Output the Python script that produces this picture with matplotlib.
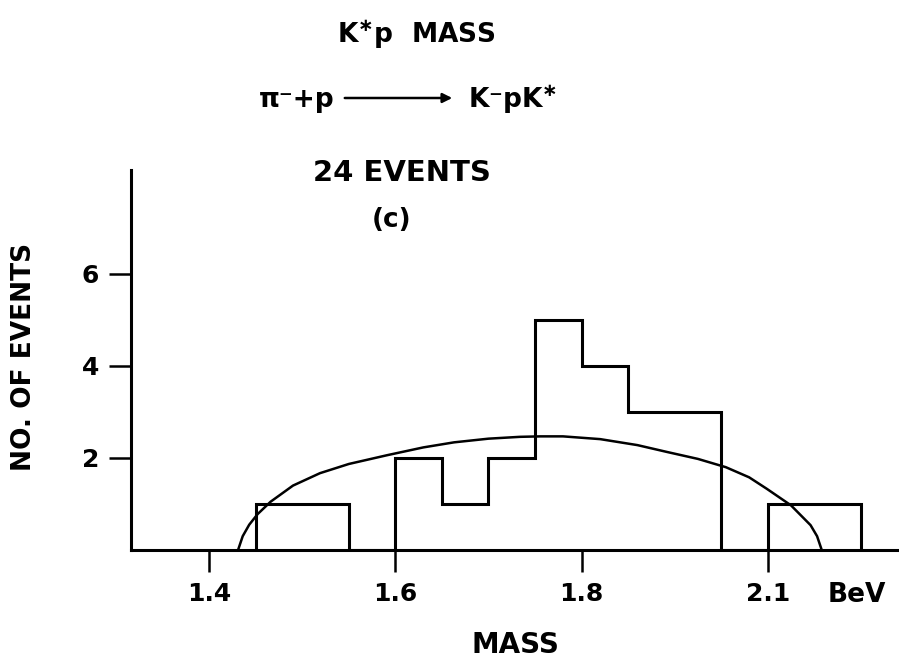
import numpy as np
import matplotlib
matplotlib.use('Agg')
import matplotlib.pyplot as plt

# histogram of K*p mass, 0.05 BeV bins
bin_edges = [1.45, 1.50, 1.55, 1.60, 1.65, 1.70, 1.75, 1.80, 1.85, 1.90, 1.95, 2.00, 2.05, 2.10]
counts = [1, 1, 0, 2, 1, 2, 5, 4, 3, 3, 0, 1, 1]

# phase space curve
curve_x = [1.431, 1.436, 1.443, 1.452, 1.466, 1.49, 1.519, 1.55, 1.591, 1.63, 1.663,
           1.70, 1.734, 1.756, 1.78, 1.82, 1.86, 1.892, 1.925, 1.955, 1.98, 1.999,
           2.025, 2.046, 2.053, 2.058]
curve_y = [0.0, 0.3, 0.55, 0.78, 1.05, 1.4, 1.67, 1.87, 2.06, 2.23, 2.34,
           2.42, 2.46, 2.47, 2.47, 2.41, 2.28, 2.13, 1.98, 1.80, 1.58, 1.33,
           0.97, 0.54, 0.3, 0.0]

xticks = [1.4, 1.6, 1.8, 2.0]
xtick_labels = ['1.4', '1.6', '1.8', '2.1']
yticks = [2, 4, 6]

plt.rcParams['font.family'] = ['DejaVu Sans']
plt.rcParams['font.weight'] = 'bold'

fig = plt.figure(figsize=(8.99, 6.62), dpi=100)
ax = fig.add_axes([131 / 899, 112 / 662, 768 / 899, 380 / 662])

ax.stairs(counts, bin_edges, baseline=0, color='black', linewidth=2.2)
ax.plot(curve_x, curve_y, color='black', linewidth=1.8)

ax.set_xlim(1.316, 2.141)
ax.set_ylim(0, 8.26)
for s in ['top', 'right']:
    ax.spines[s].set_visible(False)
for s in ['left', 'bottom']:
    ax.spines[s].set_linewidth(2.2)

ax.set_xticks(xticks)
ax.set_xticklabels(xtick_labels)
ax.set_yticks(yticks)
ax.tick_params(axis='both', direction='out', length=16, width=1.8,
               labelsize=18, pad=7)

ax.text(2.096, -0.98, 'BeV', fontsize=19, fontweight='bold', ha='center', va='center')
ax.set_xlabel('MASS', fontsize=20, fontweight='bold', labelpad=18)
fig.text(24 / 899, 1 - 357 / 662, 'NO. OF EVENTS', rotation=90, fontsize=19,
         fontweight='bold', ha='center', va='center')

# titles
fig.text(416 / 899, 1 - 35 / 662, r'K$^{\ast}$p  MASS', fontsize=19,
         fontweight='bold', ha='center', va='center')
fig.text(334 / 899, 1 - 100 / 662, 'π⁻+p', fontsize=19, fontweight='bold',
         ha='right', va='center')
ax.annotate('', xy=(455 / 899, 1 - 98 / 662), xytext=(342 / 899, 1 - 98 / 662),
            xycoords='figure fraction', textcoords='figure fraction',
            arrowprops=dict(arrowstyle='-|>', color='black', lw=1.8,
                            mutation_scale=14))
fig.text(468 / 899, 1 - 100 / 662, 'K⁻pK$^{\\ast}$', fontsize=19,
         fontweight='bold', ha='left', va='center')
fig.text(402 / 899, 1 - 173 / 662, '24 EVENTS', fontsize=21, fontweight='bold',
         ha='center', va='center')
fig.text(392 / 899, 1 - 220 / 662, '(c)', fontsize=19, fontweight='bold',
         ha='center', va='center')

fig.savefig('out.png', dpi=100, facecolor='white')
